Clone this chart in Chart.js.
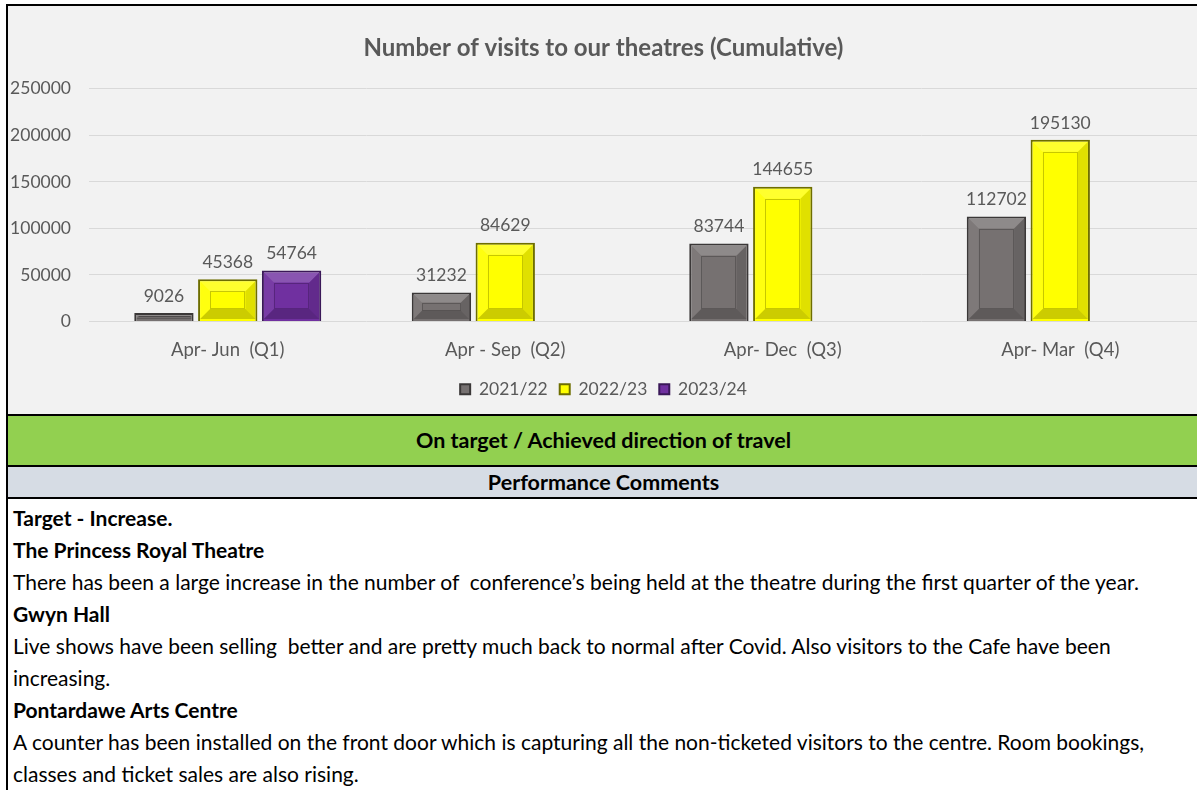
<!DOCTYPE html>
<html>
<head>
<meta charset="utf-8">
<script src="https://cdn.jsdelivr.net/npm/chart.js@4/dist/chart.umd.min.js"></script>
<style>
  body { margin: 0; background: #fff; font-family: Lato, "Open Sans", sans-serif; }
  #quadro { position: absolute; left: 6px; top: 4px; width: 1191px; border-left: 2px solid #000; border-top: 2px solid #000; }
  #area_grafico { position: relative; height: 408px; background: #f2f2f2; }
  .faixa_verde { height: 49px; line-height: 49px; background: #92d050; border-top: 2px solid #000; border-bottom: 2px solid #000;
    text-align: center; font-weight: bold; font-size: 21.5px; color: #000; }
  .faixa_cinza { height: 30px; line-height: 30px; background: #d6dce4; border-bottom: 2px solid #000;
    text-align: center; font-weight: bold; font-size: 21.5px; color: #000; }
  .comentarios { padding: 3px 0 0 5px; font-size: 21px; line-height: 32px; color: #000; white-space: nowrap; }
  .comentarios b { font-weight: bold; }
</style>
</head>
<body>
<div id="quadro">
  <div id="area_grafico"><canvas id="grafico"></canvas></div>
  <div class="faixa_verde">On target / Achieved direction of travel</div>
  <div class="faixa_cinza">Performance Comments</div>
  <div class="comentarios">
    <b>Target - Increase.</b><br>
    <b>The Princess Royal Theatre</b><br>
    There has been a large increase in the number of &nbsp;conference’s being held at the theatre during the first quarter of the year.<br>
    <b>Gwyn Hall</b><br>
    Live shows have been selling &nbsp;better and are pretty much back to normal after Covid. Also visitors to the Cafe have been<br>
    increasing.<br>
    <b>Pontardawe Arts Centre</b><br>
    A counter has been installed on the front door which is capturing all the non-ticketed visitors to the centre. Room bookings,<br>
    classes and ticket sales are also rising.
  </div>
</div>
<script>
const trimestres = ['Apr- Jun  (Q1)', 'Apr - Sep  (Q2)', 'Apr- Dec  (Q3)', 'Apr- Mar  (Q4)'];
const visitas_2021_22 = [9026, 31232, 83744, 112702];
const visitas_2022_23 = [45368, 84629, 144655, 195130];
const visitas_2023_24 = [54764, null, null, null];
const ticks_y = [0, 50000, 100000, 150000, 200000, 250000];

const corTexto = '#595959';
const fonte = 'Lato, "Open Sans", sans-serif';

// efeito de bisel parecido com o do Excel
const pluginBisel = {
    id: 'bisel',
    afterDatasetsDraw(chart) {
        const {ctx} = chart;
        chart.data.datasets.forEach((ds, i) => {
            const meta = chart.getDatasetMeta(i);
            if (meta.hidden) return;
            meta.data.forEach((bar, j) => {
                if (ds.data[j] == null) return;
                const {x, y, base, width} = bar.getProps(['x', 'y', 'base', 'width'], true);
                const x0 = x - width / 2 + 2, x1 = x + width / 2 - 2;
                const y0 = Math.min(y, base) + 2, y1 = Math.max(y, base) - 2;
                const h = y1 - y0;
                if (h <= 0) return;
                const ins = Math.min(10, h / 3, (x1 - x0) / 4);
                const poly = (pts, cor) => {
                    ctx.beginPath();
                    ctx.moveTo(pts[0][0], pts[0][1]);
                    pts.slice(1).forEach(p => ctx.lineTo(p[0], p[1]));
                    ctx.closePath();
                    ctx.fillStyle = cor;
                    ctx.fill();
                };
                ctx.save();
                poly([[x0, y0], [x1, y0], [x1 - ins, y0 + ins], [x0 + ins, y0 + ins]], 'rgba(255,255,255,0.18)');
                poly([[x0, y0], [x0 + ins, y0 + ins], [x0 + ins, y1 - ins], [x0, y1]], 'rgba(255,255,255,0.06)');
                poly([[x1, y0], [x1, y1], [x1 - ins, y1 - ins], [x1 - ins, y0 + ins]], 'rgba(0,0,0,0.12)');
                poly([[x0, y1], [x0 + ins, y1 - ins], [x1 - ins, y1 - ins], [x1, y1]], 'rgba(0,0,0,0.2)');
                ctx.strokeStyle = 'rgba(0,0,0,0.22)';
                ctx.lineWidth = 1;
                ctx.strokeRect(Math.round(x0 + ins) + 0.5, Math.round(y0 + ins) + 0.5, Math.round(x1 - x0 - 2 * ins) - 1, Math.round(h - 2 * ins) - 1);
                ctx.restore();
            });
        });
    }
};

const pluginRotulos = {
    id: 'rotulos',
    afterDatasetsDraw(chart) {
        const {ctx} = chart;
        ctx.save();
        ctx.font = '17.5px ' + fonte;
        ctx.fillStyle = corTexto;
        ctx.textAlign = 'center';
        ctx.textBaseline = 'middle';
        chart.data.datasets.forEach((ds, i) => {
            const meta = chart.getDatasetMeta(i);
            meta.data.forEach((bar, j) => {
                if (ds.data[j] == null) return;
                const {x, y} = bar.getProps(['x', 'y'], true);
                ctx.fillText(String(ds.data[j]), x, y - 17);
            });
        });
        ctx.restore();
    }
};

const montarGrafico = () => {
    const ctx = document.getElementById('grafico');
    new Chart(ctx, {
        type: 'bar',
        data: {
            labels: trimestres,
            datasets: [
                {label: '2021/22', data: visitas_2021_22, backgroundColor: '#767171', borderColor: '#3b3838', borderWidth: 2},
                {label: '2022/23', data: visitas_2022_23, backgroundColor: '#ffff00', borderColor: '#6e6e00', borderWidth: 2},
                {label: '2023/24', data: visitas_2023_24, backgroundColor: '#7030a0', borderColor: '#3a1858', borderWidth: 2},
            ]
        },
        options: {
            responsive: true,
            maintainAspectRatio: false,
            animation: false,
            layout: {padding: {top: 0, right: 0, bottom: 6, left: 0}},
            datasets: {bar: {categoryPercentage: 0.69, barPercentage: 0.93}},
            plugins: {
                title: {
                    display: true,
                    text: 'Number of visits to our theatres (Cumulative)',
                    color: corTexto,
                    font: {family: fonte, size: 24, weight: 'bold'},
                    padding: {top: 28, bottom: 26}
                },
                legend: {
                    position: 'bottom',
                    labels: {
                        color: corTexto,
                        font: {family: fonte, size: 17.5},
                        boxWidth: 10,
                        boxHeight: 10,
                        padding: 12
                    }
                },
                tooltip: {enabled: false}
            },
            scales: {
                x: {
                    grid: {display: false, drawTicks: false},
                    border: {display: false},
                    ticks: {color: corTexto, font: {family: fonte, size: 18.5}, padding: 17.5},
                    afterFit(scale) { scale.height = 47; }
                },
                y: {
                    min: 0,
                    max: 250000,
                    afterBuildTicks(scale) { scale.ticks = ticks_y.map(v => ({value: v})); },
                    afterFit(scale) { scale.width = 81; },
                    grid: {color: '#d9d9d9', lineWidth: 1, drawTicks: false},
                    border: {display: false},
                    ticks: {color: corTexto, font: {family: fonte, size: 17.5}, padding: 18, callback: v => String(v)}
                }
            }
        },
        plugins: [pluginBisel, pluginRotulos]
    });
};
montarGrafico();
</script>
</body>
</html>
